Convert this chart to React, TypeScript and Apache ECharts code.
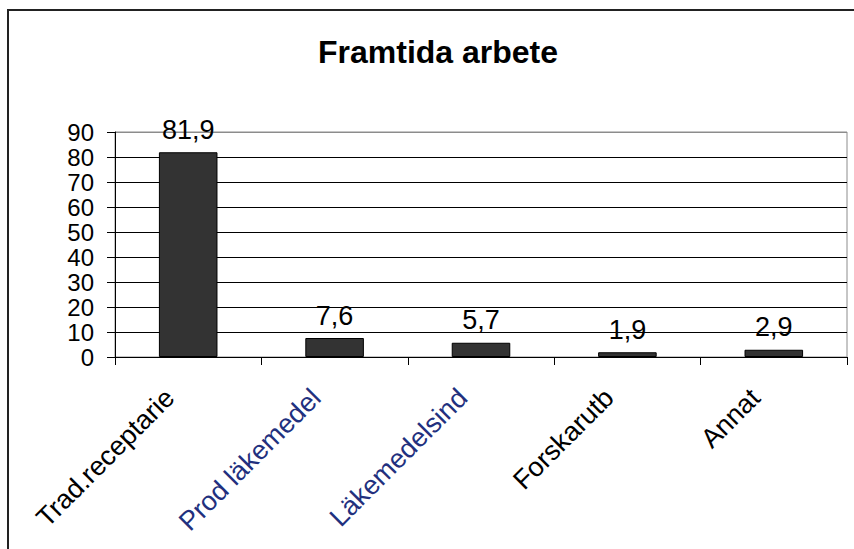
import React, { useEffect, useRef } from "react";
import * as echarts from "echarts";

const titleText = "Framtida arbete";
const categories = ["Trad.receptarie", "Prod läkemedel", "Läkemedelsind", "Forskarutb", "Annat"];
const labelColors = ["#000000", "#22307e", "#22307e", "#000000", "#000000"];
const values = [81.9, 7.6, 5.7, 1.9, 2.9];
const yMin = 0;
const yMax = 90;
const yStep = 10;

const FONT = "'Liberation Sans', Arial, sans-serif";

export default function App() {
  const ref = useRef<HTMLDivElement>(null);
  useEffect(() => {
    if (!ref.current) return;
    const chart = echarts.init(ref.current, undefined, { renderer: "svg" });
    const splitColors = [];
    for (let v = yMin; v <= yMax; v += yStep) splitColors.push(v === yMax ? "#8c8c8c" : "#000000");
    chart.setOption({
      animation: false,
      backgroundColor: "#ffffff",
      textStyle: { fontFamily: FONT },
      title: {
        text: titleText,
        left: 433,
        textAlign: "center",
        top: 31,
        textStyle: { fontFamily: FONT, fontSize: 32, fontWeight: "bold", color: "#000" },
      },
      graphic: [
        {
          type: "rect",
          shape: { x: 8, y: 10, width: 900, height: 600 },
          style: { fill: "none", stroke: "#222", lineWidth: 2 },
          silent: true,
        },
      ],
      grid: {
        left: 115,
        top: 132,
        right: 7,
        bottom: 192,
        show: true,
        borderColor: "#8c8c8c",
        borderWidth: 1,
        containLabel: false,
      },
      xAxis: {
        type: "category",
        data: categories.map((c, i) => ({ value: c, textStyle: { color: labelColors[i] } })),
        axisLine: { lineStyle: { color: "#000", width: 1 } },
        axisTick: { show: true, length: 8, lineStyle: { color: "#000" } },
        axisLabel: {
          rotate: 45,
          interval: 0,
          margin: 18,
          fontSize: 27,
          padding: [0, 26, 0, 0],
          fontFamily: FONT,
          color: "#000",
        },
      },
      yAxis: {
        type: "value",
        min: yMin,
        max: yMax,
        interval: yStep,
        axisLine: { show: true, lineStyle: { color: "#000", width: 1 } },
        axisTick: { show: true, length: 8, lineStyle: { color: "#000" } },
        axisLabel: { fontSize: 24, lineHeight: 22, color: "#000", margin: 21, fontFamily: FONT },
        splitLine: { show: true, lineStyle: { color: splitColors, width: 1 } },
      },
      series: [
        {
          type: "bar",
          data: values,
          barWidth: "40%",
          itemStyle: { color: "#333333", borderColor: "#000000", borderWidth: 1 },
          label: {
            show: true,
            position: "top",
            distance: 9,
            fontSize: 27,
            color: "#000",
            fontFamily: FONT,
            formatter: (p: any) => String(p.value).replace(".", ","),
          },
        },
      ],
    });
    return () => chart.dispose();
  }, []);
  return (
    <div
      ref={ref}
      style={{ position: "fixed", left: 0, top: 0, width: 854, height: 549, background: "#fff" }}
    />
  );
}
